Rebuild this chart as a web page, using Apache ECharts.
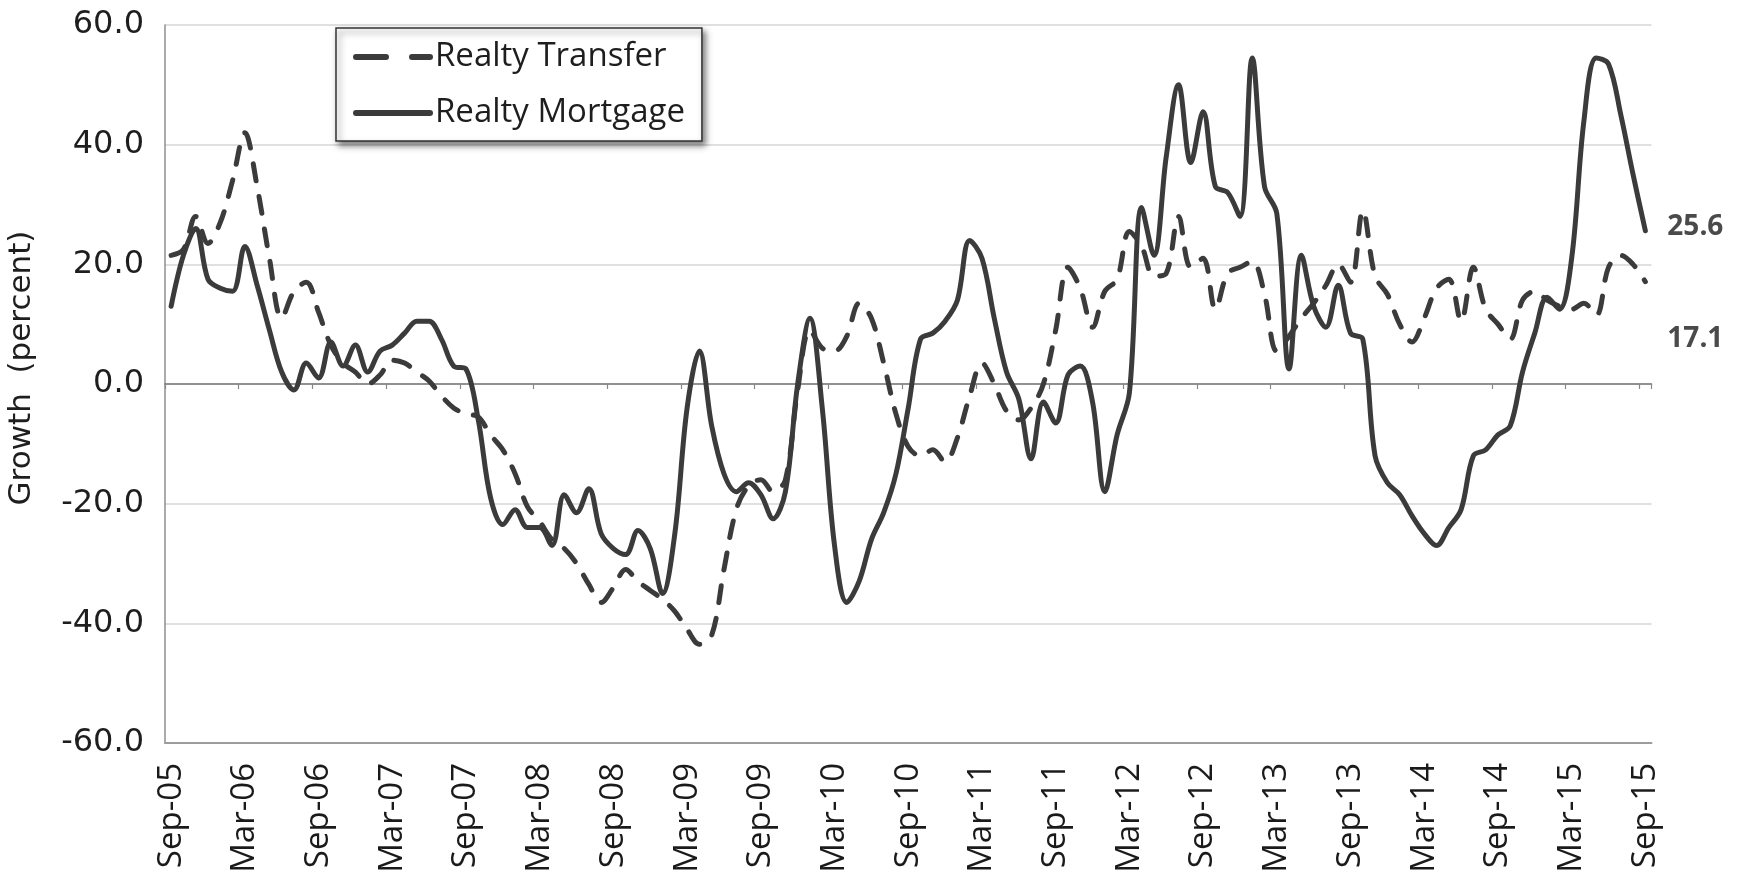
<!DOCTYPE html>
<html>
<head>
<meta charset="utf-8">
<script src="https://cdn.jsdelivr.net/npm/echarts@6/dist/echarts.min.js"></script>
<style>
  html, body { margin: 0; padding: 0; background: #ffffff; }
  #chart { width: 1741px; height: 879px; }
</style>
</head>
<body>
<div id="chart"></div>
<script>
// Month-end categories, Sep-05 through Sep-15
const monthNames = ['Jan','Feb','Mar','Apr','May','Jun','Jul','Aug','Sep','Oct','Nov','Dec'];
const months = [];
for (let k = 0; k < 121; k++) {
  const m = (8 + k) % 12;
  const yr = 5 + Math.floor((8 + k) / 12);
  months.push(monthNames[m] + '-' + String(yr).padStart(2, '0'));
}

// Year-over-year growth, percent
const realtyTransfer = [
  21.5, 22.5, 28, 23.5, 27, 34, 42, 33, 21, 11, 15.5, 17,
  12, 6.5, 3.5, 2, 0, 1.5, 4, 3.5, 2, 0.5, -2, -4,
  -5, -5.5, -8.5, -11, -15, -20.5, -23, -26, -27.5, -30, -33.5, -36.5,
  -34, -31, -33, -34.5, -36, -38, -41, -43.5, -42, -31, -21, -17,
  -16, -18, -16, -1, 9, 6, 5.5, 8, 13.5, 11, 3.5, -5,
  -10.5, -12, -11, -13, -9, -2, 3.5, 0, -4.5, -6, -4, 0,
  9, 19.5, 16, 9.5, 15.5, 17.5, 25.5, 23, 18, 18.5, 28, 19.5,
  21, 12.5, 18.5, 19.5, 20.5, 15, 5.5, 8, 11, 13.5, 16.5, 20,
  17, 29, 18, 15, 10, 7, 11, 16, 17.5, 10.5, 19.5, 12.5,
  10, 7.5, 14, 15.5, 14, 13, 12.5, 13.5, 11.5, 19.5, 21.5, 20,
  17.1
];

const realtyMortgage = [
  13, 21.5, 26, 17.5, 16, 15.5, 23, 16.5, 9, 2, -1, 3.5,
  1, 7, 3, 6.5, 2, 5.5, 6.5, 8.5, 10.5, 10.5, 7.5, 3,
  2.5, -6, -19, -23.5, -21, -24, -24, -27, -18.5, -21.5, -17.5, -25,
  -27.5, -28.5, -24.5, -27.5, -35, -25, -4, 5.5, -7, -15, -18, -16.5,
  -18.5, -22.5, -18, 0, 11, -4, -27, -36.5, -33, -26, -21.5, -15,
  -4, 7.5, 8.5, 10.5, 14, 24, 21, 11, 2, -2.5, -12.5, -3,
  -6.5, 1.5, 3, -3, -18, -8.5, -1.5, 29.5, 21.5, 38, 50, 37,
  45.5, 33, 32, 28, 54.5, 33, 28.5, 2.5, 21.5, 13, 9.5, 16.5,
  8.5, 7.5, -12, -16.5, -18.5, -22, -25, -27, -24, -21, -12, -11,
  -8.5, -7, 2, 8.5, 14.5, 12.5, 21, 44, 54.5, 53.5, 45, 35,
  25.6
];

const yTicks = { min: -60, max: 60, step: 20 };

const ink = '#3b3b3b';
const chart = echarts.init(document.getElementById('chart'), null, { renderer: 'canvas' });

chart.setOption({
  animation: false,
  backgroundColor: '#ffffff',
  grid: {
    left: 165, right: 89.5, top: 25, bottom: 136,
    containLabel: false,
    outerBoundsMode: 'none'
  },
  legend: {
    orient: 'vertical',
    left: 336, top: 28,
    backgroundColor: '#ffffff',
    borderColor: '#333333', borderWidth: 1.5, borderRadius: 0,
    shadowBlur: 6, shadowColor: 'rgba(0,0,0,0.5)', shadowOffsetX: 3, shadowOffsetY: 4,
    padding: [11, 17, 10, 17],
    itemGap: 20,
    itemWidth: 74, itemHeight: 14,
    selectedMode: false,
    textStyle: { fontFamily: 'Open Sans', fontSize: 33, color: '#1e1e1e', lineHeight: 36 },
    data: [
      { name: 'Realty Transfer', itemStyle: { opacity: 0 }, lineStyle: { type: [30, 26], width: 6, cap: 'round', opacity: 1 } },
      { name: 'Realty Mortgage', itemStyle: { opacity: 0 }, lineStyle: { width: 6, cap: 'round', opacity: 1 } }
    ]
  },
  xAxis: [
    {
      // category labels along the bottom edge
      type: 'category', data: months, boundaryGap: true, position: 'bottom',
      axisLine: { onZero: false, lineStyle: { color: '#9c9c9c', width: 2 } },
      axisTick: { show: false },
      axisLabel: {
        interval: 5, rotate: 90, margin: 20,
        fontFamily: 'Open Sans', fontSize: 33, color: '#1a1a1a'
      },
      splitLine: { show: false }
    },
    {
      // horizontal axis line drawn at zero, with half-year ticks
      type: 'category', data: months, boundaryGap: true, position: 'bottom',
      axisLine: { onZero: true, lineStyle: { color: '#777777', width: 1.5 } },
      axisTick: { show: true, interval: 5, length: 5, lineStyle: { color: '#888888', width: 1.2 } },
      axisLabel: { show: false },
      splitLine: { show: false }
    }
  ],
  yAxis: {
    type: 'value',
    min: yTicks.min, max: yTicks.max, interval: yTicks.step,
    axisLine: { show: true, lineStyle: { color: '#8f8f8f', width: 1.5 } },
    axisTick: { show: false },
    splitLine: { lineStyle: { color: '#d6d6d6', width: 1.5 } },
    axisLabel: {
      formatter: v => v.toFixed(1),
      fontFamily: 'DejaVu Sans', fontSize: 32, color: '#1e1e1e', margin: 21
    },
    name: 'Growth  (percent)',
    nameLocation: 'middle', nameGap: 128, nameRotate: 90,
    nameTextStyle: { fontFamily: 'DejaVu Sans', fontSize: 31, color: '#1e1e1e', padding: [0, 0, 0, 32] }
  },
  series: [
    {
      name: 'Realty Transfer', type: 'line', data: realtyTransfer,
      xAxisIndex: 0, yAxisIndex: 0,
      smooth: 0.35, symbol: 'none', showSymbol: false,
      lineStyle: { color: ink, width: 5, type: [17, 16], cap: 'round', join: 'round' },
      itemStyle: { color: ink },
      endLabel: {
        show: true, distance: 0, offset: [22, 57],
        formatter: p => Number(p.value).toFixed(1),
        fontFamily: 'Open Sans', fontWeight: 'bold', fontSize: 28, color: '#4a4a4a'
      },
      z: 2
    },
    {
      name: 'Realty Mortgage', type: 'line', data: realtyMortgage,
      xAxisIndex: 0, yAxisIndex: 0,
      smooth: 0.35, symbol: 'none', showSymbol: false,
      lineStyle: { color: ink, width: 5, cap: 'round', join: 'round' },
      itemStyle: { color: ink },
      endLabel: {
        show: true, distance: 0, offset: [22, -4],
        formatter: p => Number(p.value).toFixed(1),
        fontFamily: 'Open Sans', fontWeight: 'bold', fontSize: 28, color: '#4a4a4a'
      },
      z: 3
    }
  ]
});
</script>
</body>
</html>
